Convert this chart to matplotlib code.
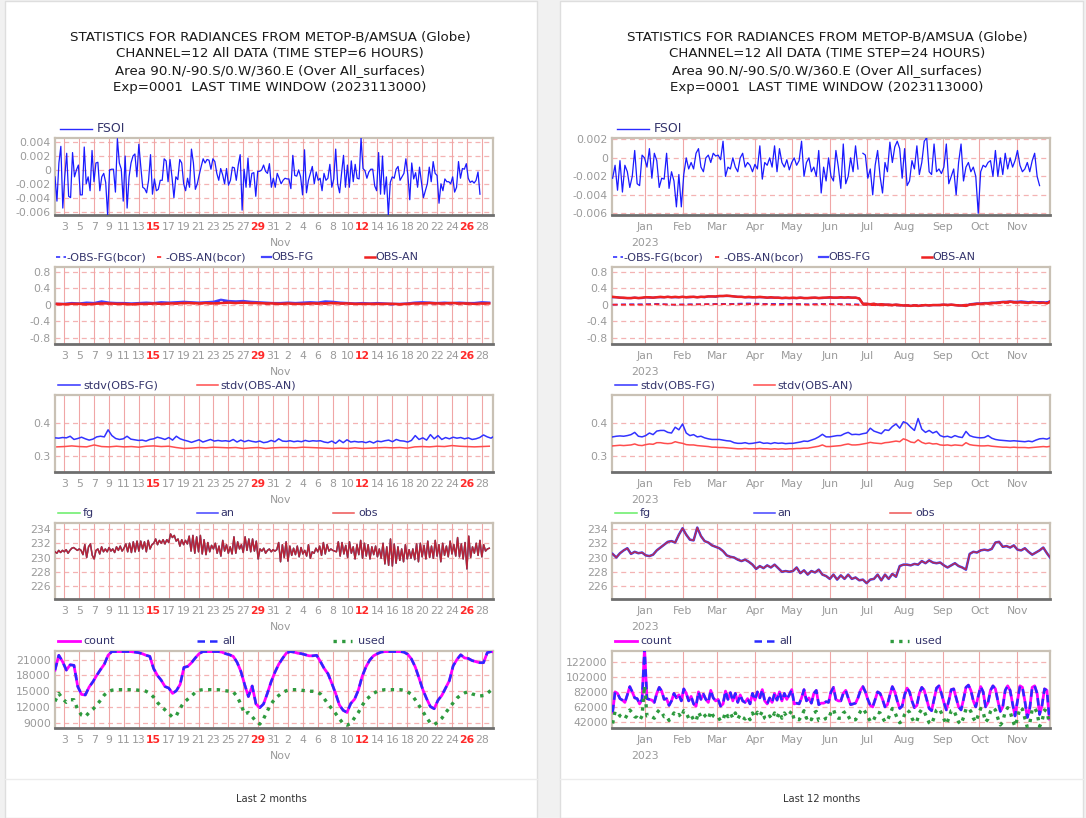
#!/usr/bin/env python3
"""
Radiance monitoring summary for METOP-B/AMSUA channel 12:
last 2 months (6-hourly) next to last 12 months (daily-ish), five panels each.
"""
import numpy as np
import pandas as pd
import matplotlib
matplotlib.use("Agg")
import matplotlib.pyplot as plt
import matplotlib.dates as mdates
from matplotlib.lines import Line2D
from matplotlib.patches import Rectangle

W, H = 1086, 818
TICK_FS = 7.8
LEGEND_FS = 8
TITLE_FS = 9.6
TICK_COLOR = "#9a9a9a"
RED_LABEL = "#ff2a2a"
HGRID = "#f4b3b3"
VGRID = "#f0a6a6"
FRAME = "#c9c1b5"
LEGEND_TXT = "#33336b"

# ---------------------------------------------------------------- last 2 months
# FSOI, 6-hourly, 1e-4 units, 2023-10-01 18h .. 2023-11-27 18h
FSOI_2M = [-10, -45, 10, 34, -55, -10, 24, -38, -40, 25, -10, 0, 7, -36, -36, 33, -20, -10,
           -30, 28, -17, 10, 11, -30, -10, -5, -18, -65, 0, 1, 1, -32, 45, 10, 1, -45, 20,
           -55, -10, 10, 20, 23, -10, 37, 5, -25, -27, -33, -15, 22, -35, -13, -30, -28, -15,
           -15, 16, 13, -17, 15, -10, -40, -10, -14, 15, 10, -20, -30, -12, -25, 30, 10, -28,
           -20, -7, 5, 16, 10, 15, 14, 1, 16, 12, -5, -15, 2, -7, -20, 2, -22, -15, 4, 3,
           -15, 7, 22, -58, 1, -25, 17, -25, -5, -4, -38, -2, -2, 0, 7, -2, -5, 9, -25, -12,
           -25, -5, -12, -20, -15, -12, -13, -13, -27, 21, -8, -9, 0, -10, -36, 29, -33, -15,
           -5, 5, -20, -3, -15, -12, -30, -5, -15, -12, 8, -25, -13, 30, -20, -33, -5, 21,
           -25, 7, -25, 13, -17, 8, -12, -13, 46, 2, -1, -12, -3, 1, 1, -23, -30, 25, -35,
           20, -35, -10, -65, -18, -10, -12, 1, 5, -15, -10, -5, 16, -7, -43, 10, -13, -4,
           -25, 4, -18, -40, -30, -20, 4, -17, 12, -5, -8, -48, -20, -30, -13, -17, -17, -20,
           -10, -32, -25, 12, -12, 2, 1, 9, -12, -18, -16, -19, -15, -3, -35]

# mean departures, daily 2023-10-02 .. 2023-11-29
OBS_FG_BCOR_2M = [0.01, 0.01, 0.02, 0.02, 0.03, 0.02, 0.05, 0.03, 0.02, 0.02, 0.01, 0.02, 0.03,
                  0.02, 0.04, 0.03, 0.04, 0.05, 0.04, 0.03, 0.04, 0.05, 0.09, 0.07, 0.06, 0.07,
                  0.05, 0.04, 0.03, 0.02, 0.02, 0.03, 0.02, 0.03, 0.04, 0.03, 0.06, 0.05, 0.03,
                  0.02, 0.01, 0.02, 0.01, 0.02, 0.01, 0.00, 0.01, 0.02, 0.03, 0.04, 0.03, 0.02,
                  0.03, 0.02, 0.03, 0.02, 0.03, 0.04, 0.04]
OBS_AN_BCOR_2M = [0.00, 0.00, 0.01, 0.01, 0.00, 0.01, 0.02, 0.02, 0.01, 0.01, 0.00, 0.01, 0.01,
                  0.02, 0.01, 0.02, 0.02, 0.03, 0.03, 0.02, 0.03, 0.02, 0.03, 0.04, 0.03, 0.04,
                  0.03, 0.03, 0.02, 0.02, 0.01, 0.02, 0.01, 0.01, 0.02, 0.02, 0.02, 0.03, 0.02,
                  0.02, 0.01, 0.01, 0.01, 0.01, 0.01, 0.01, 0.00, 0.01, 0.02, 0.02, 0.03, 0.02,
                  0.02, 0.03, 0.02, 0.02, 0.01, 0.02, 0.02]
OBS_FG_2M = [0.02, 0.02, 0.04, 0.03, 0.05, 0.04, 0.08, 0.05, 0.04, 0.04, 0.03, 0.04, 0.05, 0.04,
             0.06, 0.05, 0.06, 0.07, 0.06, 0.05, 0.06, 0.07, 0.12, 0.09, 0.08, 0.09, 0.07, 0.06,
             0.05, 0.04, 0.04, 0.05, 0.04, 0.05, 0.06, 0.05, 0.08, 0.07, 0.05, 0.04, 0.03, 0.04,
             0.03, 0.04, 0.03, 0.02, 0.02, 0.03, 0.05, 0.06, 0.05, 0.04, 0.05, 0.04, 0.05, 0.04,
             0.04, 0.06, 0.05]
OBS_AN_2M = [0.02, 0.01, 0.02, 0.02, 0.01, 0.02, 0.03, 0.03, 0.02, 0.02, 0.01, 0.02, 0.02, 0.03,
             0.02, 0.03, 0.03, 0.04, 0.04, 0.03, 0.04, 0.03, 0.04, 0.05, 0.04, 0.05, 0.04, 0.04,
             0.03, 0.03, 0.02, 0.03, 0.02, 0.02, 0.03, 0.03, 0.03, 0.04, 0.03, 0.03, 0.02, 0.02,
             0.02, 0.02, 0.02, 0.02, 0.01, 0.02, 0.03, 0.03, 0.04, 0.03, 0.03, 0.04, 0.03, 0.03,
             0.02, 0.03, 0.03]

# stdv(OBS-FG) 12-hourly 2023-10-01 18h .. 2023-11-29 06h
STDV_FG_2M = [0.355, 0.354, 0.356, 0.355, 0.360, 0.350, 0.353, 0.357, 0.352, 0.348, 0.351,
              0.358, 0.360, 0.358, 0.380, 0.362, 0.353, 0.350, 0.352, 0.360, 0.351, 0.349, 0.347,
              0.348, 0.345, 0.350, 0.352, 0.357, 0.354, 0.350, 0.356, 0.348, 0.360,
              0.352, 0.348, 0.345, 0.341, 0.345, 0.349, 0.342, 0.346, 0.350, 0.345,
              0.347, 0.345, 0.346, 0.344, 0.350, 0.342, 0.348, 0.343, 0.347, 0.344,
              0.342, 0.345, 0.340, 0.342, 0.347, 0.343, 0.352, 0.345, 0.344, 0.346,
              0.343, 0.345, 0.343, 0.347, 0.344, 0.346, 0.345, 0.346, 0.342, 0.340,
              0.345, 0.338, 0.348, 0.340, 0.349, 0.342, 0.344, 0.342, 0.343, 0.340,
              0.344, 0.339, 0.345, 0.343, 0.346, 0.348, 0.343, 0.350, 0.346, 0.345,
              0.342, 0.347, 0.362, 0.350, 0.355, 0.348, 0.365, 0.352, 0.362, 0.350,
              0.356, 0.352, 0.357, 0.354, 0.356, 0.352, 0.355, 0.350, 0.352, 0.356,
              0.364, 0.358, 0.354, 0.362]
# stdv(OBS-AN) daily 2023-10-02 .. 2023-11-29
STDV_AN_2M = [0.327, 0.328, 0.330, 0.328, 0.327, 0.333, 0.328, 0.327, 0.329, 0.327, 0.328,
              0.326, 0.329, 0.330, 0.328, 0.329, 0.325, 0.322, 0.323, 0.325, 0.324, 0.326,
              0.325, 0.324, 0.325, 0.322, 0.324, 0.325, 0.322, 0.324, 0.325, 0.325, 0.324,
              0.326, 0.325, 0.324, 0.323, 0.322, 0.323, 0.322, 0.324, 0.322, 0.323, 0.324,
              0.325, 0.324, 0.325, 0.323, 0.327, 0.328, 0.327, 0.329, 0.328, 0.331, 0.329,
              0.328, 0.327, 0.328, 0.329]

# brightness temperature (K), 6-hourly 2023-10-01 18h .. 2023-11-29 00h
TB_2M = [230.8, 230.6, 231.0, 230.7, 231.0, 230.8, 231.1, 230.6, 231.0, 231.3, 231.4, 231.2,
         231.0, 231.2, 231.0,
         230.4, 231.8, 230.0, 231.5, 231.9, 230.3, 229.8, 231.0,
         231.2, 230.5, 231.5, 230.8, 231.2, 230.8, 231.4, 230.9, 231.2, 230.7, 231.5, 231.0,
         231.6, 230.9, 231.3,
         231.9, 230.8, 232.0, 230.7, 232.2, 230.8, 232.3, 230.9, 232.3, 231.2, 232.2, 230.8,
         232.4, 231.2, 231.8, 232.0,
         232.6, 231.8, 232.4, 232.0, 232.5, 231.9, 232.5, 232.1,
         233.3, 232.8, 233.1, 232.3,
         232.6, 231.6, 232.5, 231.8, 232.4, 231.9,
         233.0, 230.9, 233.1, 230.6, 232.9, 230.8, 233.1, 230.5, 232.5, 230.4,
         232.1, 230.8, 231.7, 231.2, 232.0, 230.6, 231.6, 230.2, 232.4, 230.9, 231.8, 230.6,
         231.5, 230.5,
         232.9, 230.6, 232.2, 231.2, 231.8, 230.7, 232.9, 231.0, 232.6, 230.8, 232.6, 230.9,
         232.3, 229.8,
         231.2, 230.9, 231.3, 230.6, 231.0, 231.2, 230.8, 231.1, 230.9, 231.1,
         232.1, 229.4, 231.8, 230.0, 232.2, 229.5, 231.6, 230.3,
         231.3, 230.4, 231.6, 230.1, 231.4, 230.5, 231.0, 230.2, 231.8, 229.9, 230.8, 230.6,
         231.3, 230.8, 231.6, 230.3,
         232.1, 230.5, 231.8, 230.9, 231.2, 231.0, 230.9, 230.8,
         232.2, 230.2, 232.1, 230.5, 231.7, 230.0, 232.2, 230.6, 231.5, 229.8, 231.8, 230.4,
         232.4, 229.9, 232.0, 230.2, 231.8, 229.8, 231.5, 230.4, 231.6, 230.1, 231.2, 229.9,
         232.0, 229.1, 231.5, 228.9, 232.6, 228.8, 231.9, 229.2, 231.5, 229.6, 231.2, 229.4,
         231.8, 229.8, 231.1, 229.9,
         231.2, 229.7, 231.9, 229.4, 232.0, 230.1, 231.7, 229.8, 232.3, 230.0, 231.6, 229.9,
         232.4, 230.2, 231.8, 229.4, 232.0, 230.3, 231.6, 230.1, 232.3, 230.5, 231.8, 230.2,
         232.8, 230.1, 231.9, 229.8, 232.1, 228.4, 233.0, 230.0, 231.5, 230.6, 232.0, 230.3,
         232.4, 230.1, 231.8, 230.9, 231.2, 231.3]

# observation counts (thousands), 12-hourly 2023-10-01 18h .. 2023-11-29 18h
COUNT_2M = [19.0, 21.8, 20.6, 19.0, 20.0, 19.9, 15.9, 14.4, 14.3, 15.8, 16.8, 18.0, 19.1, 20.1,
            21.8, 22.5, 22.5, 22.5, 22.5, 22.5, 22.5, 22.4, 22.3, 22.1, 21.8, 21.6, 19.3, 18.0,
            17.1, 15.9, 15.6, 14.6, 15.1, 16.3, 19.5, 19.7, 20.4, 21.3, 22.1, 22.5, 22.5, 22.5,
            22.5, 22.5, 22.4, 22.1, 21.9, 21.6, 20.5, 18.8, 16.3, 14.0, 16.0, 12.6, 11.9, 12.6,
            14.6, 16.8, 18.6, 20.1, 21.2, 22.2, 22.5, 22.4, 22.2, 22.1, 21.9, 21.7, 21.7, 21.8,
            20.6, 19.3, 18.3, 16.5, 14.6, 12.4, 11.4, 11.0, 12.7, 13.5, 15.2, 17.8, 19.6, 20.9,
            21.7, 22.1, 22.4, 22.5, 22.5, 22.5, 22.5, 22.5, 22.4, 22.0, 21.1, 19.6, 17.5, 15.3,
            13.6, 12.1, 11.7, 13.3, 14.2, 15.6, 17.0, 19.8, 21.0, 21.9, 21.3, 21.2, 20.8, 20.6,
            20.4, 20.4, 22.3, 22.5, 22.4]
USED_2M = [13.1, 14.6, 13.6, 12.9, 13.4, 13.4, 11.5, 10.5, 10.2, 11.0, 11.6, 12.4, 13.3, 14.3,
           14.9, 15.2, 15.3, 15.3, 15.3, 15.3, 15.3, 15.3, 15.2, 15.2, 15.0, 14.6, 13.9, 12.9,
           12.1, 11.5, 10.8, 10.1, 10.4, 11.8, 12.9, 13.5, 14.1, 14.8, 15.2, 15.3, 15.3, 15.3,
           15.3, 15.3, 15.2, 15.1, 15.0, 14.9, 14.0, 12.6, 10.7, 11.0, 10.2, 9.3, 8.8, 9.8,
           11.3, 12.6, 13.6, 14.2, 14.8, 15.1, 15.3, 15.3, 15.3, 15.2, 15.1, 15.0, 15.0, 14.9,
           14.5, 13.6, 12.6, 11.7, 10.8, 9.8, 8.9, 8.6, 8.9, 10.0, 11.0, 12.3, 13.4, 14.0,
           14.6, 15.0, 15.2, 15.3, 15.3, 15.3, 15.3, 15.3, 15.2, 14.9, 14.4, 13.4, 12.3, 11.2,
           10.0, 9.0, 8.7, 9.2, 9.9, 10.9, 11.9, 12.8, 13.7, 14.3, 14.7, 14.9, 14.5, 14.3,
           14.1, 14.2, 14.6, 15.2, 15.3]

# --------------------------------------------------------------- last 12 months
# FSOI every 2 days, 1e-4 units; gap between 2023-06-24 and 2023-06-28
FSOI_12M_A = [-22, -8, -35, -3, -37, -8, -15, -32, -20, 8, -28, -30, 3,
              0, -10, 10, -22, 5, -3, -32, -22, -23, 5, -33, -15, -25, -53, -18, -53,
              -18, 0, -12, -5, -12, 5, 10, -10, -15, 0, 3, -5, 5, 2,
              3, -2, 18, -20, -10, -12, 0, -10, -15, 0, 5, -10, -5, -8, -15,
              -7, -12, 13, -23, -5, -8, 0, -10, 13, -15, 10, -5, -10, -2, -13,
              -5, 0, -8, -3, 18, -20, -5, 0, -15, -10, -20, 8, -38, -10, -25, 0,
              -20, -25, 8, -10, -33, 15, -28, -20, 0, -15, 13, -12]
FSOI_12M_B = [5, 3,
              -22, -12, -40, -8, 8, -20, -38, -5, -15, 17, -5, 12, 18, 10, -22,
              10, -30, -25, -3, -12, 13, -18, -5, 18, 22, -15, -18, 15, -15, -12, -17,
              -10, 15, -28, -20, -12, -40, -5, 15, -25, -10, -5, -15, -10, -20, -60,
              -15, -8, -10, -5, -3, -20, 8, -20, 0, -18, 5, -12, 0, -10, -3,
              8, -8, -15, -12, -5, -15, -3, 5, -20, -30]

# every 3 days from 2022-12-06
OBS_AN_12M = [0.19, 0.18, 0.17, 0.17, 0.16, 0.16, 0.17, 0.16, 0.17,
              0.18, 0.18, 0.17, 0.18, 0.19, 0.18, 0.19, 0.18, 0.19, 0.18,
              0.19, 0.18, 0.19, 0.19, 0.18, 0.19, 0.19, 0.20, 0.20, 0.20,
              0.21, 0.21, 0.22, 0.21, 0.20, 0.19, 0.19, 0.18, 0.19, 0.18,
              0.18, 0.19, 0.18, 0.17, 0.18, 0.17, 0.17, 0.16, 0.17, 0.16,
              0.17, 0.16, 0.17, 0.16, 0.16, 0.17, 0.17, 0.16, 0.17, 0.17,
              0.18, 0.17, 0.17, 0.18, 0.17, 0.18, 0.17, 0.17, 0.15, 0.02,
              0.02, 0.01, 0.02, 0.00, 0.01, 0.00, 0.00, -0.01, 0.00, -0.01, -0.02,
              -0.02, -0.03, -0.02, -0.03, -0.02, -0.01, -0.02, -0.01, -0.01, -0.01,
              0.00, -0.01, 0.00, -0.01, -0.02, -0.02, -0.03, 0.00, 0.01, 0.02,
              0.02, 0.03, 0.03, 0.04, 0.04, 0.05, 0.06, 0.06, 0.07, 0.06,
              0.05, 0.06, 0.05, 0.04, 0.06, 0.05, 0.04, 0.05, 0.03, 0.08]
OBS_FG_12M = [0.18, 0.18, 0.17, 0.16, 0.16, 0.16, 0.17, 0.16, 0.16,
              0.18, 0.17, 0.17, 0.18, 0.18, 0.18, 0.19, 0.18, 0.18, 0.18,
              0.19, 0.18, 0.18, 0.19, 0.18, 0.19, 0.18, 0.20, 0.20, 0.19,
              0.21, 0.21, 0.21, 0.21, 0.20, 0.19, 0.19, 0.18, 0.18, 0.18,
              0.18, 0.18, 0.18, 0.17, 0.17, 0.17, 0.17, 0.16, 0.16, 0.16,
              0.16, 0.16, 0.17, 0.16, 0.16, 0.16, 0.17, 0.16, 0.16, 0.17,
              0.17, 0.17, 0.17, 0.17, 0.17, 0.17, 0.17, 0.17, 0.15, 0.02,
              0.02, 0.01, 0.02, 0.00, 0.01, 0.00, 0.00, -0.01, 0.00, -0.01, -0.02,
              -0.02, -0.03, -0.02, -0.03, -0.02, -0.01, -0.02, -0.01, -0.01, -0.01,
              0.00, -0.01, 0.00, -0.01, -0.02, -0.02, -0.03, 0.01, 0.02, 0.03,
              0.03, 0.04, 0.04, 0.05, 0.05, 0.06, 0.07, 0.07, 0.08, 0.07,
              0.07, 0.08, 0.07, 0.06, 0.07, 0.06, 0.05, 0.06, 0.05, 0.09]
# 2022-12-06 .. 2023-11-27, roughly every 12 days
OBS_FG_BCOR_12M = [0.00, 0.01, 0.01, 0.02, 0.00, 0.01, 0.01, 0.02, 0.02, 0.03, 0.02, 0.02,
                   0.02, 0.01, 0.02, 0.01, 0.01, 0.00, -0.01, -0.02, -0.01, -0.01, 0.00,
                   -0.01, 0.01, 0.03, 0.05, 0.06, 0.07, 0.06]
OBS_AN_BCOR_12M = [0.00, 0.00, 0.00, 0.01, 0.00, 0.00, 0.01, 0.01, 0.01, 0.01, 0.01, 0.00,
                   0.01, 0.00, 0.01, 0.01, 0.00, -0.01, -0.02, -0.02, -0.01, -0.01, 0.00,
                   -0.01, 0.01, 0.02, 0.04, 0.05, 0.05, 0.04]

# every 3 days from 2022-12-06
STDV_FG_12M = [0.358, 0.360, 0.361, 0.360, 0.362, 0.365, 0.372, 0.360, 0.358,
               0.362, 0.370, 0.365, 0.376, 0.378, 0.378, 0.372, 0.370, 0.388, 0.380,
               0.398, 0.370, 0.362, 0.365, 0.358, 0.360, 0.355, 0.352, 0.350, 0.350,
               0.350, 0.348, 0.346, 0.345, 0.340, 0.338, 0.338, 0.340, 0.337, 0.338,
               0.340, 0.342, 0.338, 0.339, 0.337, 0.340, 0.338, 0.339, 0.337, 0.338,
               0.338, 0.340, 0.342, 0.345, 0.344, 0.348, 0.352, 0.358, 0.366, 0.358,
               0.358, 0.360, 0.362, 0.362, 0.368, 0.372, 0.365, 0.366, 0.365, 0.368,
               0.370, 0.385, 0.376, 0.372, 0.368, 0.380, 0.378, 0.390, 0.398, 0.385, 0.405,
               0.400, 0.388, 0.378, 0.415, 0.382, 0.372, 0.378, 0.370, 0.375, 0.362,
               0.358, 0.360, 0.356, 0.362, 0.358, 0.356, 0.375, 0.362, 0.358, 0.356,
               0.355, 0.356, 0.362, 0.354, 0.350, 0.348, 0.347, 0.346, 0.345, 0.346,
               0.345, 0.344, 0.343, 0.345, 0.343, 0.348, 0.352, 0.353, 0.351, 0.356]
STDV_AN_12M = [0.330, 0.331, 0.332, 0.331, 0.332, 0.333, 0.336, 0.332, 0.331,
               0.334, 0.336, 0.335, 0.340, 0.340, 0.338, 0.337, 0.338, 0.343, 0.340,
               0.338, 0.334, 0.333, 0.333, 0.331, 0.330, 0.329, 0.328, 0.326, 0.326,
               0.325, 0.325, 0.324, 0.323, 0.322, 0.321, 0.321, 0.322, 0.321, 0.321,
               0.321, 0.322, 0.321, 0.321, 0.320, 0.321, 0.320, 0.321, 0.320, 0.321,
               0.321, 0.322, 0.322, 0.323, 0.323, 0.325, 0.327, 0.329, 0.333, 0.328,
               0.328, 0.329, 0.330, 0.331, 0.334, 0.336, 0.333, 0.333, 0.334, 0.336,
               0.338, 0.341, 0.339, 0.338, 0.337, 0.340, 0.341, 0.343, 0.345, 0.343, 0.352,
               0.348, 0.342, 0.340, 0.349, 0.341, 0.337, 0.339, 0.336, 0.337, 0.333,
               0.332, 0.333, 0.331, 0.333, 0.332, 0.331, 0.340, 0.334, 0.332, 0.331,
               0.330, 0.330, 0.331, 0.329, 0.328, 0.327, 0.326, 0.326, 0.325, 0.326,
               0.325, 0.325, 0.325, 0.324, 0.325, 0.326, 0.327, 0.328, 0.327, 0.329]

TB_12M = [230.5, 230.0, 230.6, 231.0, 231.3, 230.5, 230.8, 230.6, 230.7,
          230.3, 230.2, 230.4, 231.0, 231.4, 231.8, 232.2, 232.3, 232.1, 233.2,
          234.1, 233.2, 232.5, 232.4, 234.2, 233.0, 232.3, 232.1, 231.7, 231.5,
          231.3, 230.9, 230.3, 230.1, 230.0, 229.7, 229.5, 229.7, 229.4, 229.0,
          228.4, 228.8, 228.5, 228.9, 228.6, 229.0, 228.5, 228.0, 228.1, 228.0,
          228.1, 228.6, 227.8, 228.2, 227.6, 228.1, 227.9, 228.3, 227.6, 227.4,
          227.0, 227.6, 226.9, 227.5, 227.0, 227.6, 227.0, 227.2, 226.8, 226.9,
          226.4, 226.9, 227.0, 227.6, 226.8, 227.6, 227.0, 227.7, 227.3, 228.8, 229.0,
          229.0, 228.9, 229.1, 229.0, 229.5, 229.2, 229.6, 229.3, 229.2, 229.3,
          228.9, 228.6, 228.9, 229.2, 228.8, 228.6, 228.3, 230.5, 230.8, 230.7,
          231.0, 231.1, 231.0, 231.2, 232.1, 232.2, 231.5, 231.6, 231.4, 231.7,
          231.1, 231.0, 231.3, 230.8, 230.4, 230.7, 231.0, 231.4, 230.6, 229.9]

# counts (thousands), every 2 days from 2022-12-06
COUNT_12M = [55, 82, 80, 73, 71, 68, 78, 89, 82, 74, 73, 66, 72,
             140, 73, 72, 71, 68, 80, 88, 83, 72, 73, 64, 70, 80, 74, 78, 70,
             86, 80, 70, 76, 66, 63, 82, 72, 79, 72, 68, 84, 74, 70,
             72, 63, 66, 83, 72, 81, 70, 80, 68, 78, 70, 68, 73, 66, 80,
             71, 82, 74, 85, 70, 66, 74, 68, 80, 71, 82, 70, 80, 72, 78,
             85, 66, 67, 66, 74, 85, 70, 74, 67, 80, 84, 65, 67, 67, 69, 68,
             82, 88, 72, 70, 70, 80, 84, 74, 65, 66, 67, 74, 84, 89, 82,
             72, 64, 62, 72, 82, 80, 72, 62, 65, 78, 89, 82, 70, 60, 63,
             78, 87, 82, 70, 61, 64, 80, 88, 84, 72, 60, 57, 72, 87, 90, 80,
             68, 58, 70, 85, 86, 74, 62, 58, 72, 88, 91, 84, 70, 62, 76,
             89, 82, 62, 68, 84, 90, 86, 70, 56, 62, 84, 90, 84, 66, 50,
             70, 90, 88, 70, 48, 60, 88, 90, 80, 52, 64, 86, 84, 46]
USED_12M = [40, 56, 55, 50, 48, 46, 52, 58, 54, 49, 48, 44, 50,
            90, 50, 50, 49, 47, 54, 58, 55, 49, 50, 44, 48, 54, 50, 52, 48,
            57, 54, 47, 51, 45, 43, 55, 49, 53, 49, 46, 56, 50, 48,
            49, 43, 45, 55, 49, 54, 47, 54, 46, 52, 48, 46, 50, 45, 54,
            48, 55, 50, 56, 47, 45, 50, 46, 54, 48, 55, 47, 54, 49, 52,
            57, 45, 46, 45, 50, 57, 47, 50, 45, 54, 56, 44, 45, 45, 47, 46,
            55, 59, 49, 47, 47, 54, 56, 50, 44, 45, 45, 50, 56, 60, 55,
            49, 43, 42, 49, 55, 54, 48, 42, 44, 52, 60, 55, 47, 41, 43,
            52, 58, 55, 47, 41, 43, 54, 59, 56, 48, 41, 39, 48, 58, 60, 54,
            46, 39, 47, 57, 58, 50, 42, 39, 48, 59, 61, 56, 47, 42, 51,
            60, 55, 42, 46, 56, 61, 58, 47, 38, 42, 56, 61, 56, 44, 36,
            47, 61, 59, 47, 35, 40, 59, 61, 54, 36, 43, 58, 56, 40]

TITLE_2M = ["STATISTICS FOR RADIANCES FROM METOP-B/AMSUA (Globe)",
            "CHANNEL=12 All DATA (TIME STEP=6 HOURS)",
            "Area 90.N/-90.S/0.W/360.E (Over All_surfaces)",
            "Exp=0001  LAST TIME WINDOW (2023113000)"]
TITLE_12M = ["STATISTICS FOR RADIANCES FROM METOP-B/AMSUA (Globe)",
             "CHANNEL=12 All DATA (TIME STEP=24 HOURS)",
             "Area 90.N/-90.S/0.W/360.E (Over All_surfaces)",
             "Exp=0001  LAST TIME WINDOW (2023113000)"]

# panel rows (top, bottom) in pixels, and the two axis columns
ROWS = [(138, 215), (267, 344), (395, 472), (523, 599), (651, 728)]
COL_2M = (55, 493)
COL_12M = (612, 1050)


def t_span(start, end, n):
    return mdates.date2num(pd.date_range(start, end, periods=n).to_numpy())


def t_step(start, n, freq):
    return mdates.date2num(pd.date_range(start, periods=n, freq=freq).to_numpy())


def fx(x):
    return x / W


def fy(y):
    return 1 - y / H


def add_axes(fig, col, row):
    top, bot = ROWS[row]
    return fig.add_axes([fx(col[0]), fy(bot), (col[1] - col[0]) / W, (bot - top) / H])


def time_axis_2m():
    ticks = pd.date_range("2023-10-03", "2023-11-28", freq="2D")
    return {
        "xlim": mdates.date2num(pd.to_datetime(["2023-10-01 18:00", "2023-11-29 12:00"]).to_numpy()),
        "ticks": mdates.date2num(ticks.to_numpy()),
        "labels": [str(d.day) for d in ticks],
        "red": [d.dayofweek == 6 for d in ticks],
        "sub": "Nov",
        "sub_x": mdates.date2num(np.datetime64("2023-11-01")),
    }


def time_axis_12m():
    ticks = pd.date_range("2023-01-01", "2023-11-01", freq="MS")
    return {
        "xlim": mdates.date2num(pd.to_datetime(["2022-12-05 12:00", "2023-11-27 12:00"]).to_numpy()),
        "ticks": mdates.date2num(ticks.to_numpy()),
        "labels": [d.strftime("%b") for d in ticks],
        "red": [False] * len(ticks),
        "sub": "2023",
        "sub_x": mdates.date2num(np.datetime64("2023-01-01")),
    }


def style_axes(ax, xa, yticks, ylabels, ylim):
    ax.set_xlim(xa["xlim"])
    ax.set_ylim(ylim)
    ax.set_xticks(xa["ticks"])
    ax.set_xticklabels(xa["labels"])
    ax.set_yticks(yticks)
    ax.set_yticklabels(ylabels)
    ax.tick_params(axis="both", length=0, labelsize=TICK_FS, colors=TICK_COLOR)
    ax.tick_params(axis="x", pad=5)
    ax.tick_params(axis="y", pad=3)
    for lab, red in zip(ax.get_xticklabels(), xa["red"]):
        if red:
            lab.set_color(RED_LABEL)
            lab.set_fontweight("bold")
    for y in yticks:
        ax.axhline(y, color=HGRID, lw=0.9, ls=(0, (4, 3)), zorder=1)
    for x in xa["ticks"]:
        ax.axvline(x, color=VGRID, lw=0.8, zorder=1)
    for name, sp in ax.spines.items():
        sp.set_color(FRAME)
        sp.set_linewidth(1.6)
    ax.spines["bottom"].set_color("#6e6e6e")
    ax.spines["bottom"].set_linewidth(2.0)
    ax.annotate(xa["sub"], xy=(xa["sub_x"], 0), xycoords=("data", "axes fraction"),
                xytext=(0, -28), textcoords="offset pixels", ha="center", va="center",
                fontsize=TICK_FS, color=TICK_COLOR)


def legend_item(fig, x0, x1, y, label, tx=None, fs=LEGEND_FS, **line_kw):
    fig.add_artist(Line2D([fx(x0), fx(x1)], [fy(y), fy(y)], transform=fig.transFigure, **line_kw))
    fig.text(fx(tx if tx is not None else x1 + 2), fy(y), label, fontsize=fs,
             color=LEGEND_TXT, ha="left", va="center")


def draw_frame(fig, x0, x1, title, footer, title_cx):
    fig.add_artist(Rectangle((fx(x0), 0), (x1 - x0) / W, fy(1), transform=fig.transFigure,
                             facecolor="white", edgecolor="#dedede", lw=1.0, zorder=0))
    fig.add_artist(Line2D([fx(x0), fx(x1)], [fy(779), fy(779)], transform=fig.transFigure,
                          color="#ececec", lw=1.0))
    for i, line in enumerate(title):
        fig.text(fx(title_cx), fy(37 + i * 17), line, fontsize=TITLE_FS, color="#1a1a1a",
                 ha="center", va="center")
    fig.text(fx((x0 + x1) / 2), fy(799), footer, fontsize=7.2, color="#333333",
             ha="center", va="center")


def main() -> None:
    plt.rcParams["axes.unicode_minus"] = False
    plt.rcParams["font.family"] = ["DejaVu Sans"]
    fig = plt.figure(figsize=(W / 100, H / 100), dpi=100)
    fig.patch.set_facecolor("#f1f1f1")

    draw_frame(fig, 5, 537, TITLE_2M, "Last 2 months", 270)
    draw_frame(fig, 560, 1083, TITLE_12M, "Last 12 months", 827)

    # ---------------- left column: last 2 months
    xa = time_axis_2m()
    ax = add_axes(fig, COL_2M, 0)
    t = t_span("2023-10-01 18:00", "2023-11-27 18:00", len(FSOI_2M))
    ax.plot(t, np.array(FSOI_2M) * 1e-4, color="#1a1aff", lw=0.9, zorder=3)
    style_axes(ax, xa, [-0.006, -0.004, -0.002, 0, 0.002, 0.004],
               ["-0.006", "-0.004", "-0.002", "0", "0.002", "0.004"], (-0.0065, 0.0046))

    ax = add_axes(fig, COL_2M, 1)
    td = t_span("2023-10-02", "2023-11-29", len(OBS_FG_2M))
    ax.plot(td, OBS_FG_2M, color="#4444ff", lw=1.6, zorder=3)
    ax.plot(td, OBS_FG_BCOR_2M, color="#3333ff", lw=1.2, ls=(0, (3, 2)), zorder=3)
    ax.plot(td, OBS_AN_BCOR_2M, color="#ff2222", lw=1.2, ls=(0, (3, 2)), zorder=3)
    ax.plot(td, OBS_AN_2M, color="#ee2222", lw=1.8, zorder=3)
    style_axes(ax, xa, [-0.8, -0.4, 0, 0.4, 0.8], ["-0.8", "-0.4", "0", "0.4", "0.8"], (-0.956, 0.915))

    ax = add_axes(fig, COL_2M, 2)
    ax.plot(t_span("2023-10-01 18:00", "2023-11-29 18:00", len(STDV_FG_2M)), STDV_FG_2M,
            color="#3333ff", lw=1.1, zorder=3)
    ax.plot(t_span("2023-10-02", "2023-11-29", len(STDV_AN_2M)), STDV_AN_2M,
            color="#ff4d4d", lw=1.1, zorder=3)
    style_axes(ax, xa, [0.3, 0.4], ["0.3", "0.4"], (0.249, 0.488))

    ax = add_axes(fig, COL_2M, 3)
    tt = t_span("2023-10-01 18:00", "2023-11-29 00:00", len(TB_2M))
    ax.plot(tt, TB_2M, color="#66ee66", lw=1.0, zorder=3)
    ax.plot(tt, TB_2M, color="#4444ff", lw=1.0, zorder=3)
    ax.plot(tt, TB_2M, color="#c42020", lw=1.1, alpha=0.9, zorder=4)
    style_axes(ax, xa, [226, 228, 230, 232, 234], ["226", "228", "230", "232", "234"], (224.18, 234.84))

    ax = add_axes(fig, COL_2M, 4)
    tc = t_span("2023-10-01 18:00", "2023-11-29 18:00", len(COUNT_2M))
    ax.plot(tc, np.array(COUNT_2M) * 1000, color="#ff00ff", lw=2.0, zorder=3)
    ax.plot(tc, np.array(COUNT_2M) * 1000, color="#2a2aff", lw=1.8, ls=(0, (3, 2)), zorder=4)
    ax.plot(tc, np.array(USED_2M) * 1000, color="#2e9a3e", lw=2.4, ls=(0, (1, 1.6)), zorder=4)
    style_axes(ax, xa, [9000, 12000, 15000, 18000, 21000],
               ["9000", "12000", "15000", "18000", "21000"], (8060, 22610))

    # ---------------- right column: last 12 months
    xb = time_axis_12m()
    ax = add_axes(fig, COL_12M, 0)
    ax.plot(t_step("2022-12-06", len(FSOI_12M_A), "2D"), np.array(FSOI_12M_A) * 1e-4,
            color="#1a1aff", lw=0.9, zorder=3)
    ax.plot(t_step("2023-06-28", len(FSOI_12M_B), "2D"), np.array(FSOI_12M_B) * 1e-4,
            color="#1a1aff", lw=0.9, zorder=3)
    style_axes(ax, xb, [-0.006, -0.004, -0.002, 0, 0.002],
               ["-0.006", "-0.004", "-0.002", "0", "0.002"], (-0.00618, 0.00215))

    ax = add_axes(fig, COL_12M, 1)
    t3 = t_step("2022-12-06", len(OBS_AN_12M), "3D")
    tb = t_span("2022-12-06", "2023-11-27", len(OBS_FG_BCOR_12M))
    ax.plot(t3, OBS_FG_12M, color="#4444ff", lw=1.6, zorder=3)
    ax.plot(tb, OBS_FG_BCOR_12M, color="#3333ff", lw=1.2, ls=(0, (3, 2)), zorder=3)
    ax.plot(tb, OBS_AN_BCOR_12M, color="#ff2222", lw=1.2, ls=(0, (3, 2)), zorder=3)
    ax.plot(t3, OBS_AN_12M, color="#ee2222", lw=1.8, zorder=4)
    style_axes(ax, xb, [-0.8, -0.4, 0, 0.4, 0.8], ["-0.8", "-0.4", "0", "0.4", "0.8"], (-0.956, 0.915))

    ax = add_axes(fig, COL_12M, 2)
    ax.plot(t_step("2022-12-06", len(STDV_FG_12M), "3D"), STDV_FG_12M, color="#3333ff", lw=1.1, zorder=3)
    ax.plot(t_step("2022-12-06", len(STDV_AN_12M), "3D"), STDV_AN_12M, color="#ff4d4d", lw=1.1, zorder=3)
    style_axes(ax, xb, [0.3, 0.4], ["0.3", "0.4"], (0.249, 0.488))

    ax = add_axes(fig, COL_12M, 3)
    tt = t_step("2022-12-06", len(TB_12M), "3D")
    ax.plot(tt, TB_12M, color="#66ee66", lw=1.0, zorder=3)
    ax.plot(tt, TB_12M, color="#3a3aff", lw=1.8, zorder=3)
    ax.plot(tt, TB_12M, color="#d42a2a", lw=1.0, alpha=0.85, zorder=4)
    style_axes(ax, xb, [226, 228, 230, 232, 234], ["226", "228", "230", "232", "234"], (224.18, 234.84))

    ax = add_axes(fig, COL_12M, 4)
    tc = t_step("2022-12-06", len(COUNT_12M), "2D")
    ax.plot(tc, np.array(COUNT_12M) * 1000, color="#ff00ff", lw=2.0, zorder=3)
    ax.plot(tc, np.array(COUNT_12M) * 1000, color="#2a2aff", lw=1.8, ls=(0, (3, 2)), zorder=4)
    ax.plot(t_step("2022-12-06", len(USED_12M), "2D"), np.array(USED_12M) * 1000,
            color="#2e9a3e", lw=2.4, ls=(0, (1, 1.6)), zorder=4)
    style_axes(ax, xb, [42000, 62000, 82000, 102000, 122000],
               ["42000", "62000", "82000", "102000", "122000"], (34000, 136300))

    # ---------------- legends (placed above each panel)
    for dx in (0, 557):
        legend_item(fig, 60 + dx, 92 + dx, 129, "FSOI", tx=97 + dx, fs=9, color="#2a2aff", lw=1.0)
    for dx, sp in ((0, (0, 101, 206, 309)), (557, (0, 102, 206, 309))):
        b = 56 + dx
        legend_item(fig, b + sp[0], b + sp[0] + 10, 257, "-OBS-FG(bcor)", tx=b + sp[0] + 10,
                    color="#3333ff", lw=1.2, ls=(0, (2.5, 2)))
        legend_item(fig, b + sp[1], b + sp[1] + 7, 257, "-OBS-AN(bcor)", tx=b + sp[1] + 8,
                    color="#ff2222", lw=1.2, ls=(0, (2.5, 2)))
        legend_item(fig, b + sp[2], b + sp[2] + 9, 257, "OBS-FG", tx=b + sp[2] + 9,
                    color="#4444ff", lw=1.6)
        legend_item(fig, b + sp[3], b + sp[3] + 10, 257, "OBS-AN", tx=b + sp[3] + 10,
                    color="#ee2222", lw=1.8)
    for dx in (0, 557):
        legend_item(fig, 58 + dx, 80 + dx, 385, "stdv(OBS-FG)", tx=83 + dx, color="#3333ff", lw=1.1)
        legend_item(fig, 197 + dx, 218 + dx, 385, "stdv(OBS-AN)", tx=220 + dx, color="#ff4d4d", lw=1.1)
        legend_item(fig, 58 + dx, 80 + dx, 513, "fg", tx=83 + dx, color="#66ee66", lw=1.1)
        legend_item(fig, 197 + dx, 218 + dx, 513, "an", tx=220 + dx, color="#4444ff", lw=1.1)
        legend_item(fig, 333 + dx, 354 + dx, 513, "obs", tx=358 + dx, color="#ee5555", lw=1.1)
        legend_item(fig, 58 + dx, 80 + dx, 641, "count", tx=83 + dx, color="#ff00ff", lw=2.0)
        legend_item(fig, 197 + dx, 218 + dx, 641, "all", tx=222 + dx, color="#2a2aff", lw=1.8,
                    ls=(0, (3, 2)))
        legend_item(fig, 333 + dx, 352 + dx, 641, "used", tx=358 + dx, color="#2e9a3e", lw=2.4,
                    ls=(0, (1, 1.6)))

    fig.savefig("out.png", dpi=100, facecolor=fig.get_facecolor())
    plt.close(fig)


if __name__ == "__main__":
    main()
